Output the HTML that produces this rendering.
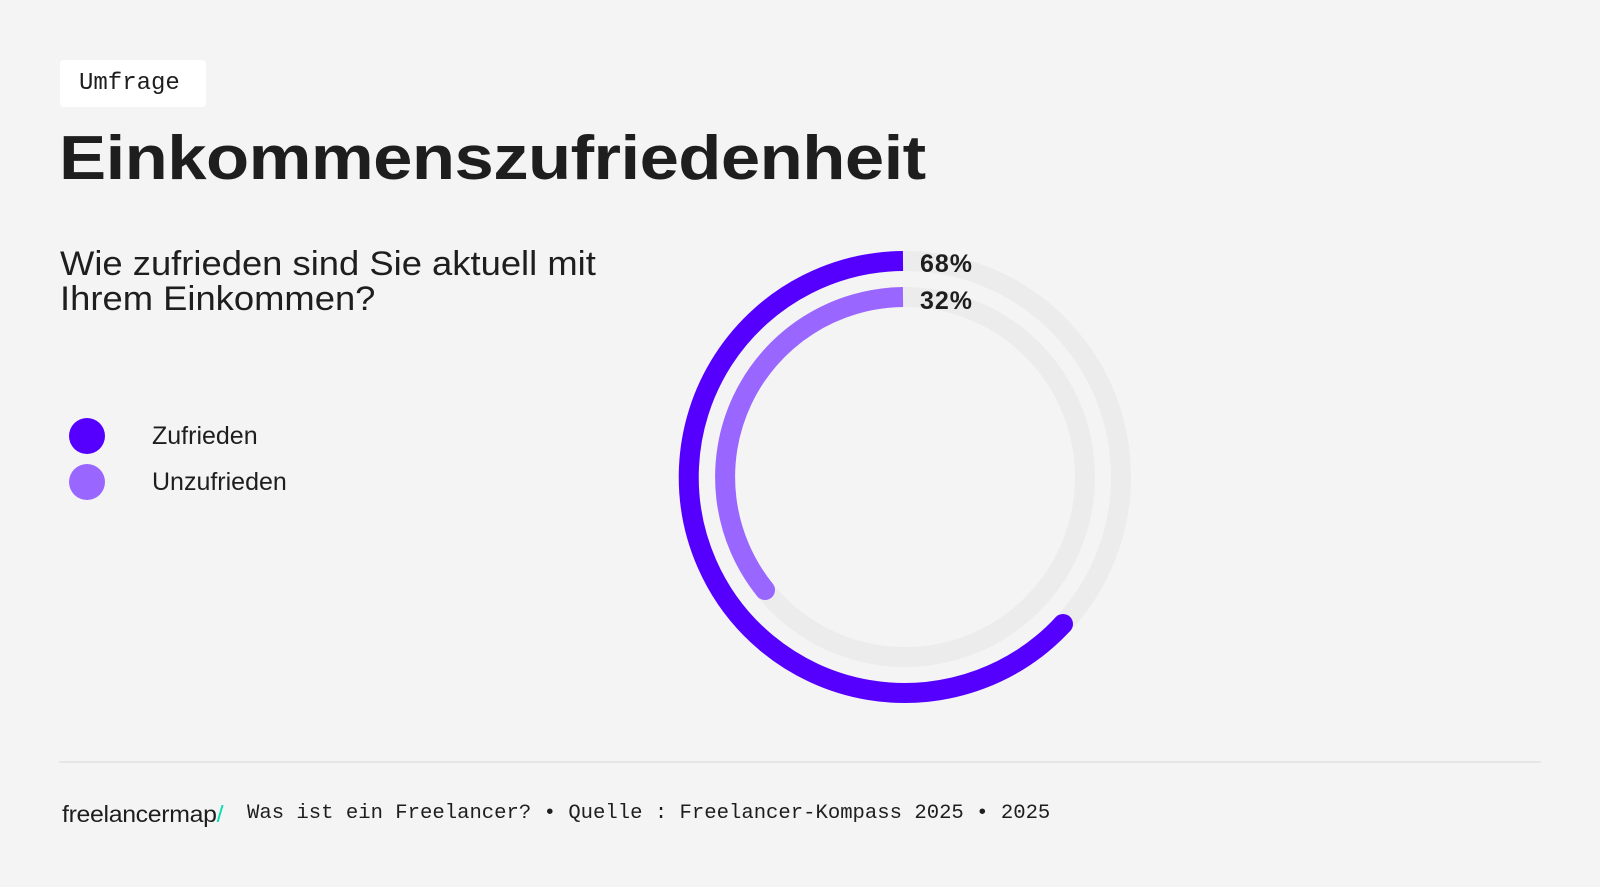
<!DOCTYPE html>
<html><head><meta charset="utf-8"><style>
body{margin:0;width:1600px;height:887px;background:#f4f4f4;position:relative;font-family:"Liberation Sans",sans-serif;color:#1e1e1e;overflow:hidden}
.a{position:absolute;white-space:nowrap}
</style></head><body>
<div class="a" style="left:60px;top:60px;width:146px;height:47px;background:#fff;border-radius:4px"></div>
<div class="a" style="left:79px;top:69px;font-family:'Liberation Mono',monospace;font-size:24px;line-height:30px">Umfrage</div>
<div class="a" style="left:59px;top:124px;font-size:62px;font-weight:bold;letter-spacing:-0.5px;line-height:70px;transform:scaleX(1.14);transform-origin:left top">Einkommenszufriedenheit</div>
<div class="a" style="left:60px;top:247px;font-size:34px;line-height:35px;transform:scaleX(1.07);transform-origin:left top">Wie zufrieden sind Sie aktuell mit<br>Ihrem Einkommen?</div>
<div class="a" style="left:69px;top:418px;width:36px;height:36px;border-radius:50%;background:#5500ff"></div>
<div class="a" style="left:69px;top:464px;width:36px;height:36px;border-radius:50%;background:#9966ff"></div>
<div class="a" style="left:152px;top:422px;font-size:25px">Zufrieden</div>
<div class="a" style="left:152px;top:468px;font-size:25px">Unzufrieden</div>
<svg class="a" style="left:0;top:0" width="1600" height="887">
<circle cx="905" cy="477" r="216" fill="none" stroke="#ececec" stroke-width="20"/>
<circle cx="905" cy="477" r="180" fill="none" stroke="#ececec" stroke-width="20"/>
<path d="M903 261 A216 216 0 1 0 1063 624" fill="none" stroke="#5500ff" stroke-width="20"/>
<circle cx="1063" cy="624" r="10" fill="#5500ff"/>
<path d="M903 297 A180 180 0 0 0 765 590" fill="none" stroke="#9966ff" stroke-width="20"/>
<circle cx="765" cy="590" r="10" fill="#9966ff"/>
<text x="920" y="272" font-family="Liberation Sans" font-weight="bold" font-size="25" letter-spacing="1" fill="#1e1e1e">68%</text>
<text x="920" y="309" font-family="Liberation Sans" font-weight="bold" font-size="25" letter-spacing="1" fill="#1e1e1e">32%</text>
<line x1="59" y1="762" x2="1541" y2="762" stroke="#e6e6e6" stroke-width="2"/>
</svg>
<div class="a" style="left:62px;top:801px;font-size:23px;letter-spacing:-0.3px;transform:scaleX(1.08);transform-origin:left top">freelancermap<span style="color:#00e0b0">/</span></div>
<div class="a" style="left:247px;top:802px;font-family:'Liberation Mono',monospace;font-size:20.6px">Was ist ein Freelancer? • Quelle : Freelancer-Kompass 2025 • 2025</div>
</body></html>
